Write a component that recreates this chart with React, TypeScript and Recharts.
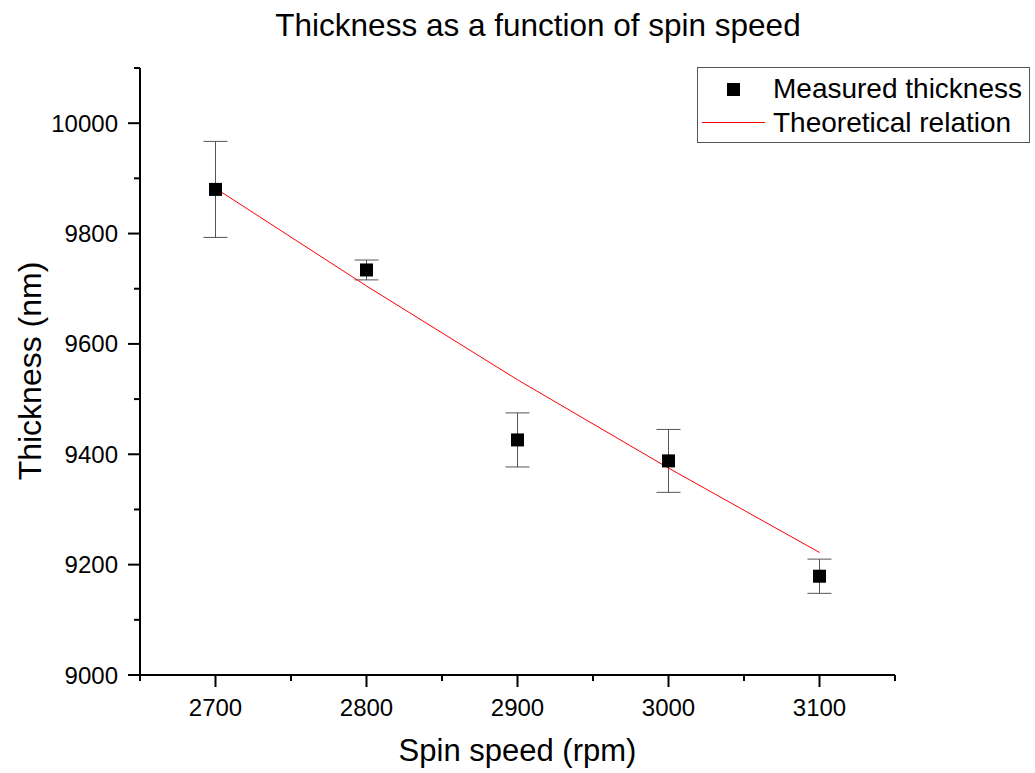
import React from "react";
import { ComposedChart, Scatter, Line, XAxis, YAxis, ErrorBar } from "recharts";

const speeds = [2700, 2800, 2900, 3000, 3100];
const measured = [9880, 9734, 9426, 9388, 9179];
const errors = [87, 18, 49, 57, 31];
const theory = [9882, 9705, 9535, 9375, 9222];

const xTicks = [2650, 2700, 2750, 2800, 2850, 2900, 2950, 3000, 3050, 3100, 3150];
const yTicks = [9000, 9100, 9200, 9300, 9400, 9500, 9600, 9700, 9800, 9900, 10000, 10100];

const FONT = '"Liberation Sans", Arial, Helvetica, sans-serif';

const data = speeds.map((s, i) => ({ speed: s, thick: measured[i], err: errors[i], theory: theory[i] }));

function XTick(props: any) {
  const { x, y, payload } = props;
  const major = payload.value % 100 === 0;
  return (
    <g>
      <line x1={x} x2={x} y1={y} y2={y + (major ? 12 : 6)} stroke="#000" strokeWidth={2} />
      {major && (
        <text x={x} y={y + 41} textAnchor="middle" fontSize={24} fontFamily={FONT} fill="#000">
          {payload.value}
        </text>
      )}
    </g>
  );
}

function YTick(props: any) {
  const { x, y, payload } = props;
  const major = payload.value % 200 === 0;
  return (
    <g>
      <line x1={x - (major ? 12 : 6)} x2={x} y1={y} y2={y} stroke="#000" strokeWidth={2} />
      {major && (
        <text x={x - 22} y={y + 8.5} textAnchor="end" fontSize={24} fontFamily={FONT} fill="#000">
          {payload.value}
        </text>
      )}
    </g>
  );
}

function Square(props: any) {
  const { cx, cy } = props;
  return <rect x={cx - 6.5} y={cy - 6.5} width={13} height={13} fill="#000" />;
}

export default function App() {
  return (
    <div style={{ position: "absolute", left: 0, top: 0, width: 1035, height: 773, background: "#fff", fontFamily: FONT }}>
      <ComposedChart width={1035} height={773} data={data} margin={{ top: 68, right: 140, bottom: 38, left: 60 }}>
        <XAxis
          type="number"
          dataKey="speed"
          domain={[2650, 3150]}
          ticks={xTicks}
          interval={0}
          height={60}
          tickSize={0}
          tickMargin={0}
          tickLine={false}
          tick={<XTick />}
          axisLine={{ stroke: "#000", strokeWidth: 2 }}
          allowDataOverflow
        />
        <YAxis
          type="number"
          domain={[9000, 10100]}
          ticks={yTicks}
          interval={0}
          width={80}
          tickSize={0}
          tickMargin={0}
          tickLine={false}
          tick={<YTick />}
          axisLine={{ stroke: "#000", strokeWidth: 2 }}
          allowDataOverflow
        />
        <Scatter dataKey="thick" fill="#000" shape={<Square />} isAnimationActive={false}>
          <ErrorBar dataKey="err" direction="y" width={12} stroke="#555" strokeWidth={1} />
        </Scatter>
        <Line dataKey="theory" stroke="#ff0000" strokeWidth={1} dot={false} type="linear" isAnimationActive={false} />
      </ComposedChart>

      <div style={{ position: "absolute", left: 0, width: 1035, top: 7, textAlign: "center", fontSize: 31.5, lineHeight: "36px", paddingLeft: 41, boxSizing: "border-box" }}>
        Thickness as a function of spin speed
      </div>
      <div style={{ position: "absolute", left: 140, width: 755, top: 733, textAlign: "center", fontSize: 31, lineHeight: "36px" }}>
        Spin speed (rpm)
      </div>
      <div
        style={{
          position: "absolute",
          left: 30,
          top: 371,
          fontSize: 32,
          lineHeight: "36px",
          whiteSpace: "nowrap",
          transform: "translate(-50%, -50%) rotate(-90deg)",
        }}
      >
        Thickness (nm)
      </div>

      <div style={{ position: "absolute", left: 697, top: 67, width: 333, height: 76, border: "1px solid #555", boxSizing: "border-box", background: "#fff" }}>
        <div style={{ position: "absolute", left: 29, top: 15, width: 13, height: 13, background: "#000" }} />
        <div style={{ position: "absolute", left: 75, top: 4, fontSize: 28, lineHeight: "34px", whiteSpace: "nowrap" }}>Measured thickness</div>
        <div style={{ position: "absolute", left: 4, top: 54, width: 63, height: 1, background: "#ff0000" }} />
        <div style={{ position: "absolute", left: 75, top: 38, fontSize: 28, lineHeight: "34px", whiteSpace: "nowrap" }}>Theoretical relation</div>
      </div>
    </div>
  );
}
